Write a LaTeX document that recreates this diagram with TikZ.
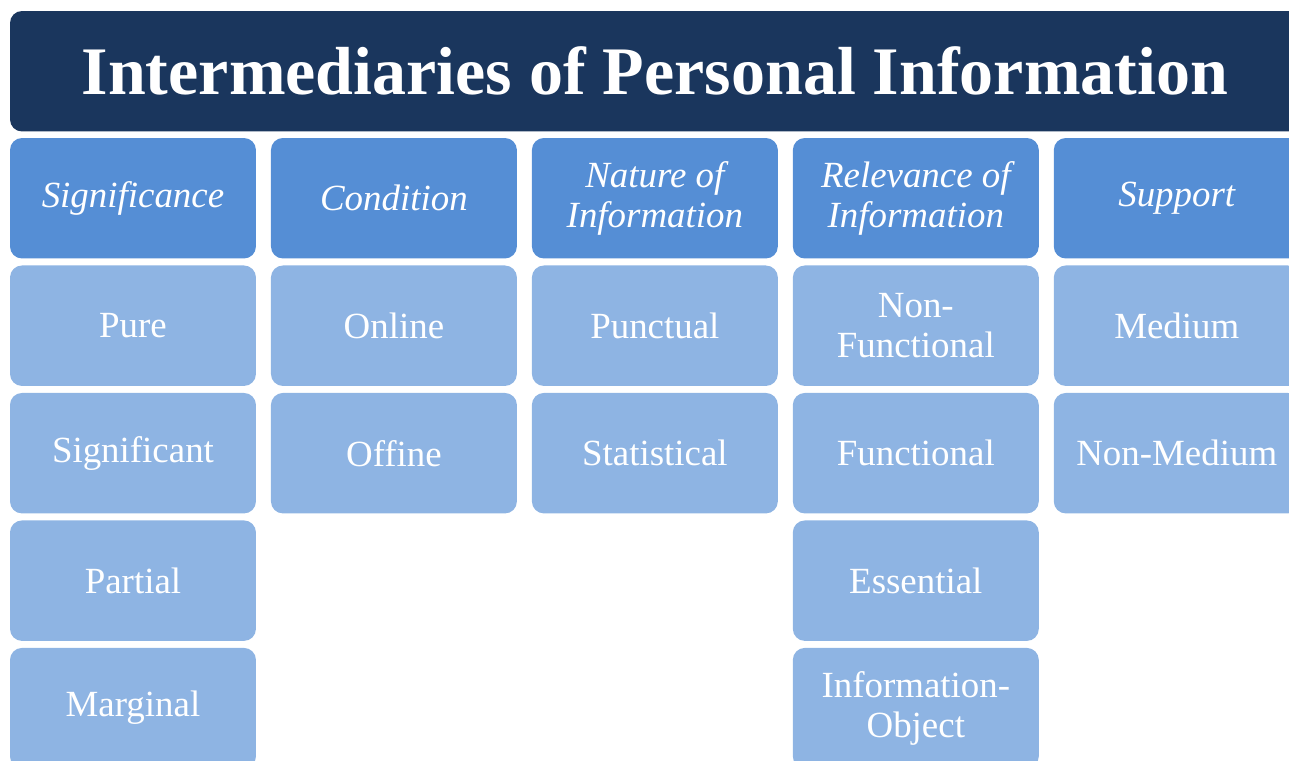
\documentclass[tikz,border=0pt]{standalone}
\usepackage{fontspec}
\setmainfont{Liberation Serif}
\usetikzlibrary{positioning}
\definecolor{titleblue}{RGB}{26,54,93}
\definecolor{headblue}{RGB}{85,142,213}
\definecolor{itemblue}{RGB}{142,180,227}
\tikzset{
	x=0.02cm, y=-0.02cm, % one unit is one pixel of the layout
	every node/.style={outer sep=0pt, text=white, align=center},
	box/.style={rounded corners=0.24cm, minimum width=4.92cm, minimum height=2.41cm, inner sep=2pt},
	head/.style={box, fill=headblue, font=\fontsize{21}{23}\selectfont\itshape}, % category boxes
	item/.style={box, fill=itemblue, font=\fontsize{21}{23}\selectfont}, % value boxes
	node distance=0.14cm and 0.3cm,
}

\begin{document}
\begin{tikzpicture}
	\clip (0,0) rectangle (1289,761);
	\useasboundingbox (0,0) rectangle (1289,761);

	\node[box, fill=titleblue, minimum width=25.8cm, anchor=north west,
		font=\fontsize{38.7}{40}\selectfont\bfseries] (title) at (10,11) {Intermediaries of Personal Information};

	% categories
	\node[head, anchor=north west] (sig) at (10,138) {Significance};
	\node[head, right=of sig] (cond) {Condition};
	\node[head, right=of cond] (nat) {Nature of\\Information};
	\node[head, right=of nat] (rel) {Relevance of\\Information};
	\node[head, right=of rel] (supp) {Support};

	% significance
	\node[item, below=of sig] (pure) {Pure};
	\node[item, below=of pure] (signif) {Significant};
	\node[item, below=of signif] (partial) {Partial};
	\node[item, below=of partial] (marginal) {Marginal};

	% condition
	\node[item, below=of cond] (online) {Online};
	\node[item, below=of online] (offine) {Offine};

	% nature of information
	\node[item, below=of nat] (punct) {Punctual};
	\node[item, below=of punct] (stat) {Statistical};

	% relevance of information
	\node[item, below=of rel] (nonfunc) {Non-\\Functional};
	\node[item, below=of nonfunc] (func) {Functional};
	\node[item, below=of func] (essent) {Essential};
	\node[item, below=of essent] (infobj) {Information-\\Object};

	% support
	\node[item, below=of supp] (medium) {Medium};
	\node[item, below=of medium] (nonmed) {Non-Medium};
\end{tikzpicture}
\end{document}
